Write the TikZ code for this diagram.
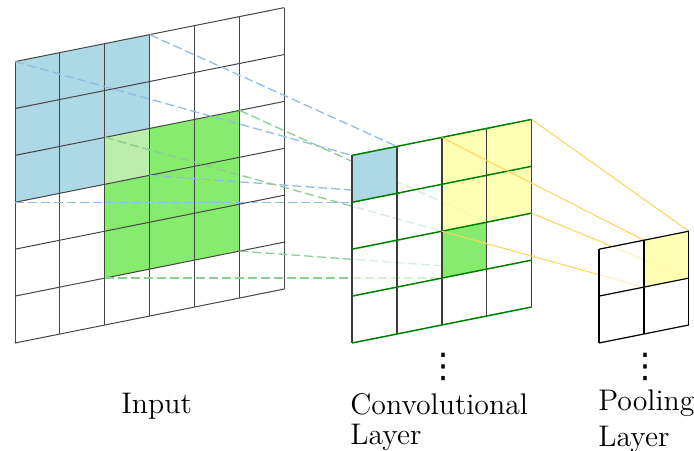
\documentclass[tikz,border=0pt]{standalone}
\usepackage{fontspec}
\newfontfamily\dejavu{DejaVu Sans}
\definecolor{inblue}{RGB}{173,216,230}
\definecolor{ingreen}{RGB}{134,236,110}
\definecolor{overlapgreen}{RGB}{187,238,170}
\definecolor{cellyellow}{RGB}{255,255,160}
\definecolor{gridgray}{RGB}{70,70,70}
\definecolor{convgreen}{RGB}{0,128,0}
\definecolor{convgray}{RGB}{60,60,60}
\definecolor{bluedashcol}{RGB}{145,188,228}
\definecolor{greendashcol}{RGB}{140,205,150}
\definecolor{yellowline}{RGB}{255,210,90}
\begin{document}
\begin{tikzpicture}[
  gridline/.style={line width=0.5pt, draw=gridgray},
  convh/.style={line width=0.75pt, draw=convgreen},
  convv/.style={line width=0.75pt, draw=convgray},
  poolline/.style={line width=0.6pt, draw=black},
  bluedash/.style={draw=bluedashcol, line width=0.65pt, dash pattern=on 4.5pt off 2pt},
  greendash/.style={draw=greendashcol, line width=0.65pt, dash pattern=on 4.5pt off 2pt},
  yellowconn/.style={draw=yellowline, line width=0.5pt},
  fadeout/.style={fill=white, fill opacity=0.65},
  labeltext/.style={inner sep=0pt, font=\fontsize{14.9}{14}\selectfont},
  dotsnode/.style={inner sep=0pt, font=\dejavu\fontsize{17}{17}\selectfont},
  inscope/.style={x={(22.45pt,4.5pt)}, y={(0pt,23.45pt)}}
]
\useasboundingbox (0,0) rectangle (347pt,-225pt);

% ---------- coordinates ----------
\begin{scope}[shift={(7.5pt,-171.5pt)}, inscope]
  \coordinate (bTL) at (0,6); \coordinate (bTR) at (3,6);
  \coordinate (bBL) at (0,3); \coordinate (bBR) at (3,3);
  \coordinate (gTL) at (2,4); \coordinate (gTR) at (5,4);
  \coordinate (gBL) at (2,1); \coordinate (gBR) at (5,1);
\end{scope}
\begin{scope}[shift={(176pt,-171.5pt)}, inscope]
  \coordinate (cbTL) at (0,4); \coordinate (cbTR) at (1,4);
  \coordinate (cbBL) at (0,3); \coordinate (cbBR) at (1,3);
  \coordinate (cgTL) at (2,2); \coordinate (cgTR) at (3,2);
  \coordinate (cgBL) at (2,1); \coordinate (cgBR) at (3,1);
  \coordinate (cyTL) at (2,4); \coordinate (cyTR) at (4,4);
  \coordinate (cyBL) at (2,2); \coordinate (cyBR) at (4,2);
\end{scope}
\begin{scope}[shift={(299.5pt,-171.5pt)}, inscope]
  \coordinate (pyTL) at (1,2); \coordinate (pyTR) at (2,2);
  \coordinate (pyBL) at (1,1); \coordinate (pyBR) at (2,1);
\end{scope}

% ---------- input layer ----------
\begin{scope}[shift={(7.5pt,-171.5pt)}, inscope]
  \fill[inblue] (0,3) -- (3,3) -- (3,6) -- (0,6) -- cycle;
  \fill[ingreen] (2,1) -- (5,1) -- (5,4) -- (2,4) -- cycle;
  \fill[overlapgreen] (2,3) -- (3,3) -- (3,4) -- (2,4) -- cycle;
  \foreach \i in {0,...,6} \draw[gridline] (\i,0) -- (\i,6);
  \foreach \j in {0,...,6} \draw[gridline] (0,\j) -- (6,\j);
\end{scope}

% ---------- input -> convolution connectors ----------
\draw[bluedash] (bTL) -- (cbTL);
\draw[bluedash] (bTR) -- (cbTR);
\draw[bluedash] (bBL) -- (cbBL);
\draw[bluedash] (bBR) -- (cbBR);
\draw[greendash] (gTL) -- (cgTL);
\draw[greendash] (gTR) -- (cgTR);
\draw[greendash] (gBL) -- (cgBL);
\draw[greendash] (gBR) -- (cgBR);

% ---------- convolutional layer ----------
\begin{scope}[shift={(176pt,-171.5pt)}, inscope]
  \fill[fadeout] (0,0) -- (4,0) -- (4,4) -- (0,4) -- cycle;
  \fill[inblue] (0,3) -- (1,3) -- (1,4) -- (0,4) -- cycle;
  \fill[ingreen] (2,1) -- (3,1) -- (3,2) -- (2,2) -- cycle;
  \fill[cellyellow, fill opacity=0.8] (2,2) -- (4,2) -- (4,4) -- (2,4) -- cycle;
  \foreach \i in {0,...,4} \draw[convv] (\i,0) -- (\i,4);
  \foreach \j in {0,...,4} \draw[convh] (0,\j) -- (4,\j);
\end{scope}

% ---------- convolution -> pooling connectors ----------
\draw[yellowconn] (cyTL) -- (pyTL);
\draw[yellowconn] (cyTR) -- (pyTR);
\draw[yellowconn] (cyBL) -- (pyBL);
\draw[yellowconn] (cyBR) -- (pyBR);

% ---------- pooling layer ----------
\begin{scope}[shift={(299.5pt,-171.5pt)}, inscope]
  \fill[fadeout] (0,0) -- (2,0) -- (2,2) -- (0,2) -- cycle;
  \fill[cellyellow, fill opacity=0.8] (1,1) -- (2,1) -- (2,2) -- (1,2) -- cycle;
  \foreach \i in {0,...,2} \draw[poolline] (\i,0) -- (\i,2);
  \foreach \j in {0,...,2} \draw[poolline] (0,\j) -- (2,\j);
\end{scope}

% ---------- labels ----------
\node[labeltext, anchor=base west] (inlabel) at (60.5pt,-206.6pt) {Input};
\node[labeltext, align=left, anchor=north west, font=\fontsize{14.9}{15}\selectfont] (convlabel) at (175pt,-196.8pt) {Convolutional\\Layer};
\node[labeltext, align=left, anchor=north west, font=\fontsize{14.9}{18.3}\selectfont] (poollabel) at (299pt,-194.65pt) {Pooling\\Layer};
\node[dotsnode] (convdots) at (221.5pt,-183.5pt) {⋮};
\node[dotsnode] (pooldots) at (322.5pt,-183.5pt) {⋮};
\end{tikzpicture}
\end{document}
